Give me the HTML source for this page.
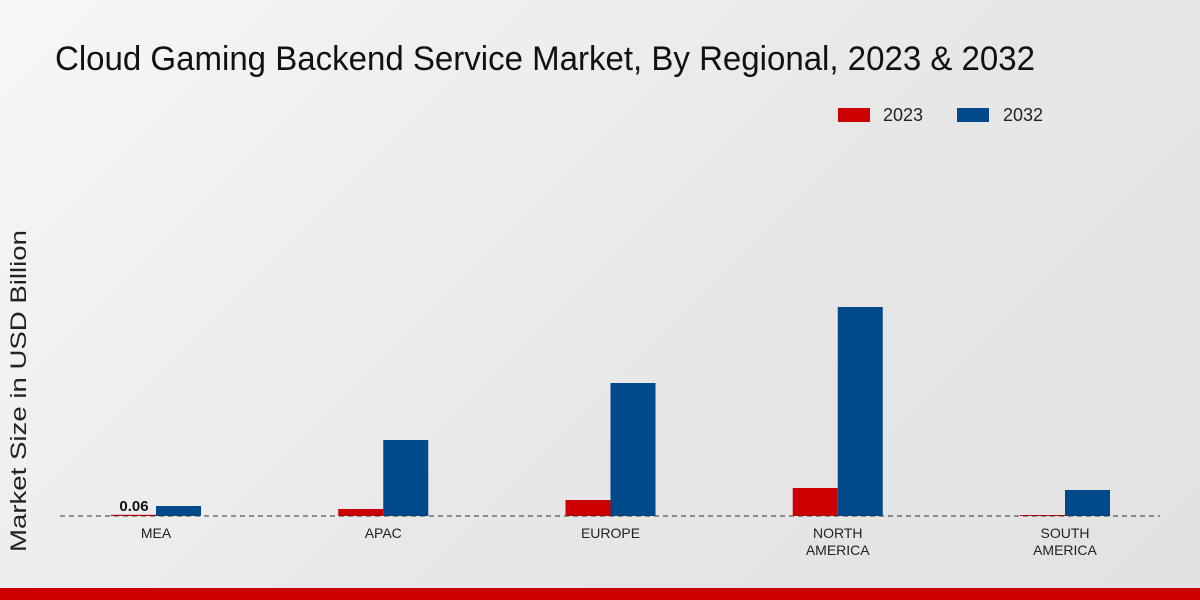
<!DOCTYPE html>
<html><head><meta charset="utf-8"><style>
html,body{margin:0;padding:0;width:1200px;height:600px;overflow:hidden}
body{background:linear-gradient(135deg,#f7f7f7 0%,#e6e6e6 60%,#e2e2e2 100%);font-family:"Liberation Sans",sans-serif}
</style></head><body>
<svg id="chart" width="1200" height="600" xmlns="http://www.w3.org/2000/svg">
<text x="55" y="70" font-size="34" fill="#111" textLength="980" lengthAdjust="spacingAndGlyphs">Cloud Gaming Backend Service Market, By Regional, 2023 &amp; 2032</text>
<g>
<rect x="838" y="108" width="32" height="14" fill="#cc0000"/>
<text x="883" y="121" font-size="18" fill="#222">2023</text>
<rect x="957" y="108" width="32" height="14" fill="#004a8c"/>
<text x="1003" y="121" font-size="18" fill="#222">2032</text>
</g>
<text transform="translate(26,391) rotate(-90)" text-anchor="middle" font-size="22" fill="#222" textLength="322" lengthAdjust="spacingAndGlyphs">Market Size in USD Billion</text>
<g id="bars"></g>
<line x1="60" y1="516" x2="1160" y2="516" stroke="#333" stroke-dasharray="5,4" stroke-width="1"/>
<g id="labels"></g>
<rect x="0" y="588" width="1200" height="12" fill="#cc0000"/>
</svg>
<script>
const categories = [["MEA"],["APAC"],["EUROPE"],["NORTH","AMERICA"],["SOUTH","AMERICA"]];
const values2023 = [0.06, 0.35, 0.8, 1.4, 0.05];
const values2032 = [0.5, 3.8, 6.65, 10.45, 1.3];
const ns="http://www.w3.org/2000/svg";
const baseY=516, pxPerUnit=20, x0=156, step=227.25, bw=45;
const yScale=v=>baseY-v*pxPerUnit;
const xCenter=i=>x0+i*step;
const bars=document.getElementById('bars'), labels=document.getElementById('labels');
function mk(t,a){const e=document.createElementNS(ns,t);for(const k in a)e.setAttribute(k,a[k]);return e;}
categories.forEach((c,i)=>{
  const cx=xCenter(i);
  const r1=mk('rect',{x:cx-bw,y:yScale(values2023[i]),width:bw,height:Math.max(baseY-yScale(values2023[i]),1),fill:'#cc0000'});
  
  
  bars.appendChild(r1);
  const r2=mk('rect',{x:cx,y:yScale(values2032[i]),width:bw,height:baseY-yScale(values2032[i]),fill:'#004a8c'});
  
  
  bars.appendChild(r2);
  const t=mk('text',{x:cx,y:538,'text-anchor':'middle','font-size':14,fill:'#222'});
  
  
  c.forEach((l,j)=>{const s=mk('tspan',{x:cx,dy:j?17:0});s.textContent=l;t.appendChild(s);});
  labels.appendChild(t);
});
const vl=mk('text',{x:xCenter(0)-22,y:511,'text-anchor':'middle','font-size':15,'font-weight':'bold',fill:'#111'});


vl.textContent=values2023[0].toFixed(2);
labels.appendChild(vl);
</script>
</body></html>
